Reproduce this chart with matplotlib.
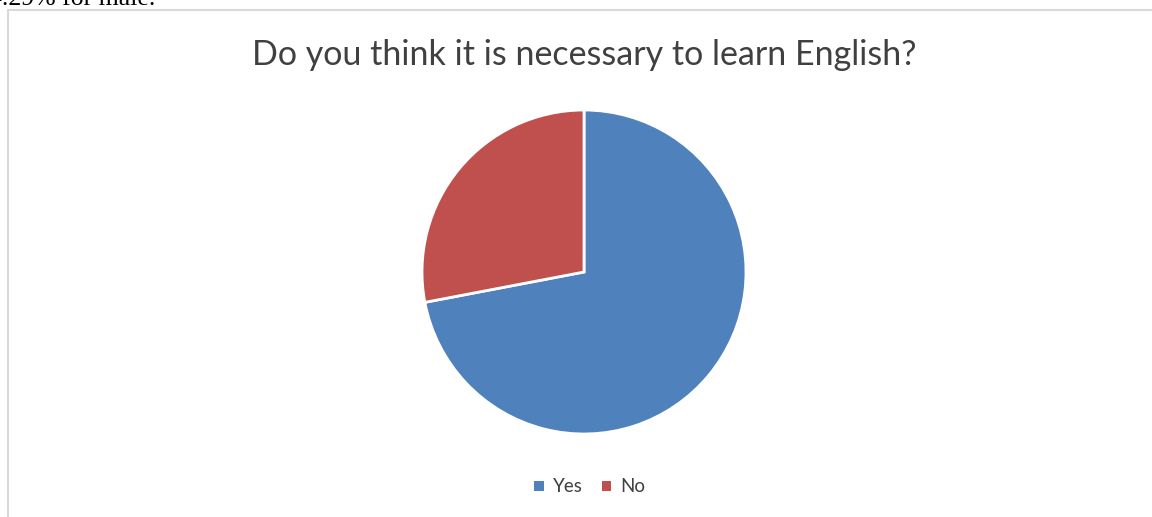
import matplotlib
matplotlib.use('Agg')
import matplotlib.pyplot as plt
from matplotlib.patches import Rectangle, Patch

# survey answers (percent)
labels = ['Yes', 'No']
values = [72, 28]
colors = ['#4f81bd', '#c0504d']

W, H = 1152, 517
fig = plt.figure(figsize=(W / 100, H / 100), dpi=100, facecolor='white')

# text line of the page above the chart
fig.text(-11 / W, 1 - 5 / H, '4.29% for male.', family='Liberation Serif',
         fontsize=18.5, color='black', va='baseline', ha='left')

# chart frame
fig.patches.append(Rectangle((8 / W, -0.1), 1.2, (H - 10) / H + 0.1,
                             transform=fig.transFigure, fill=False,
                             edgecolor='#d9d9d9', linewidth=1.5))

fig.text(584 / W, 1 - 55 / H, 'Do you think it is necessary to learn English?',
         family='Lato', fontsize=24.5, color='#404040', ha='center', va='center')

cx, cy, r = 584, 272, 162
ax = fig.add_axes([(cx - r) / W, (H - cy - r) / H, 2 * r / W, 2 * r / H])
ax.pie(values, colors=colors, startangle=90, counterclock=False, radius=1,
       wedgeprops=dict(edgecolor='white', linewidth=2))
ax.set_xlim(-1, 1)
ax.set_ylim(-1, 1)
ax.axis('off')

handles = [Patch(facecolor=c, label=l) for c, l in zip(colors, labels)]
fig.legend(handles=handles, loc='center', bbox_to_anchor=(590 / W, 1 - 487 / H),
           ncol=2, frameon=False, prop={'family': 'Lato', 'size': 13.5},
           handlelength=0.5, handleheight=0.5, handletextpad=0.5,
           columnspacing=1.0, labelcolor='#404040')

fig.savefig('out.png', dpi=100, facecolor='white')
